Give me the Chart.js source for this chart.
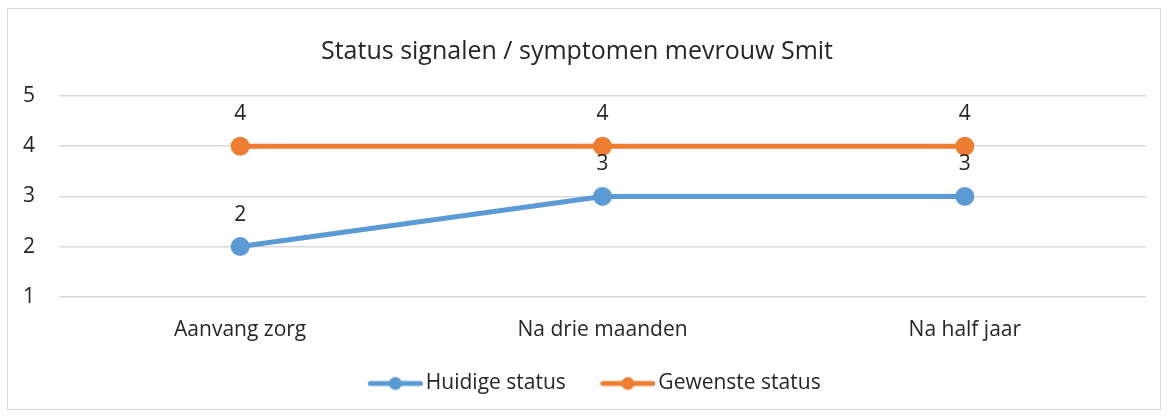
<!DOCTYPE html>
<html>
<head>
<meta charset="utf-8">
<script src="https://cdn.jsdelivr.net/npm/chart.js@4"></script>
<style>
  body { margin: 0; background: #fff; }
  #wrap { position: absolute; left: 7px; top: 8px; width: 1152px; height: 400px; border: 1px solid #d9d9d9; }
</style>
</head>
<body>
<div id="wrap"><canvas id="chart"></canvas></div>
<script>
const categories = ['Aanvang zorg', 'Na drie maanden', 'Na half jaar'];
const huidige = [2, 3, 3];
const gewenste = [4, 4, 4];
const yTicks = [1, 2, 3, 4, 5];

const FONT = '"Open Sans", Lato, sans-serif';

// legenda-icoon: lijn met bolletje (links transparant voor extra ruimte tussen items)
function legendIcon(color) {
    const c = document.createElement('canvas');
    c.width = 75; c.height = 16;
    const g = c.getContext('2d');
    g.strokeStyle = color;
    g.lineWidth = 5;
    g.lineCap = 'round';
    g.beginPath(); g.moveTo(22.5, 8); g.lineTo(72.5, 8); g.stroke();
    g.fillStyle = color;
    g.beginPath(); g.arc(47.5, 8, 6.5, 0, Math.PI * 2); g.fill();
    return c;
}

const valueLabels = {
    id: 'valueLabels',
    afterDatasetsDraw(chart) {
        const ctx = chart.ctx;
        ctx.save();
        ctx.font = '21px ' + FONT;
        ctx.fillStyle = '#262626';
        ctx.textAlign = 'center';
        ctx.textBaseline = 'middle';
        chart.data.datasets.forEach((ds, i) => {
            chart.getDatasetMeta(i).data.forEach((pt, j) => {
                ctx.fillText(ds.data[j], pt.x, pt.y - 32);
            });
        });
        ctx.restore();
    }
};

// legenda iets naar rechts, zoals in het origineel
const legendShift = {
    id: 'legendShift',
    afterLayout(chart) {
        chart.legend.left += 11;
        chart.legend.right += 11;
    }
};

new Chart(document.getElementById('chart'), {
    type: 'line',
    data: {
        labels: categories,
        datasets: [
            {
                label: 'Huidige status',
                data: huidige,
                borderColor: '#5B9BD5',
                backgroundColor: '#5B9BD5',
                borderWidth: 5,
                pointRadius: 7,
                pointHoverRadius: 7,
                pointStyle: 'circle',
                legendIcon: legendIcon('#5B9BD5')
            },
            {
                label: 'Gewenste status',
                data: gewenste,
                borderColor: '#ED7D31',
                backgroundColor: '#ED7D31',
                borderWidth: 5,
                pointRadius: 7,
                pointHoverRadius: 7,
                pointStyle: 'circle',
                legendIcon: legendIcon('#ED7D31')
            }
        ]
    },
    options: {
        responsive: true,
        maintainAspectRatio: false,
        animation: false,
        layout: { padding: { top: 10, right: 14, bottom: 5, left: 0 } },
        plugins: {
            title: {
                display: true,
                text: 'Status signalen / symptomen mevrouw Smit',
                color: '#262626',
                font: { family: FONT, size: 25, weight: 'normal' },
                padding: { top: 18, bottom: 29 }
            },
            legend: {
                position: 'bottom',
                labels: {
                    usePointStyle: true,
                    pointStyleWidth: 60,
                    padding: 22,
                    color: '#262626',
                    font: { family: FONT, size: 21 },
                    generateLabels(chart) {
                        return chart.data.datasets.map((ds, i) => ({
                            text: ds.label,
                            pointStyle: ds.legendIcon,
                            fillStyle: ds.borderColor,
                            strokeStyle: ds.borderColor,
                            lineWidth: 0,
                            fontColor: '#262626',
                            datasetIndex: i
                        }));
                    }
                }
            },
            tooltip: { enabled: false }
        },
        scales: {
            x: {
                offset: true,
                grid: { display: false },
                border: { display: false },
                afterFit(scale) { scale.height -= 5; },
                ticks: { color: '#262626', font: { family: FONT, size: 21 }, padding: 13 }
            },
            y: {
                min: 1,
                max: 5,
                afterBuildTicks(scale) { scale.ticks = yTicks.map(v => ({ value: v })); },
                afterFit(scale) { scale.width = 51; },
                grid: { color: '#d9d9d9', lineWidth: 1.5, drawTicks: false },
                border: { display: false },
                ticks: { color: '#262626', font: { family: FONT, size: 21 }, padding: 24 }
            }
        }
    },
    plugins: [valueLabels, legendShift]
});
</script>
</body>
</html>
